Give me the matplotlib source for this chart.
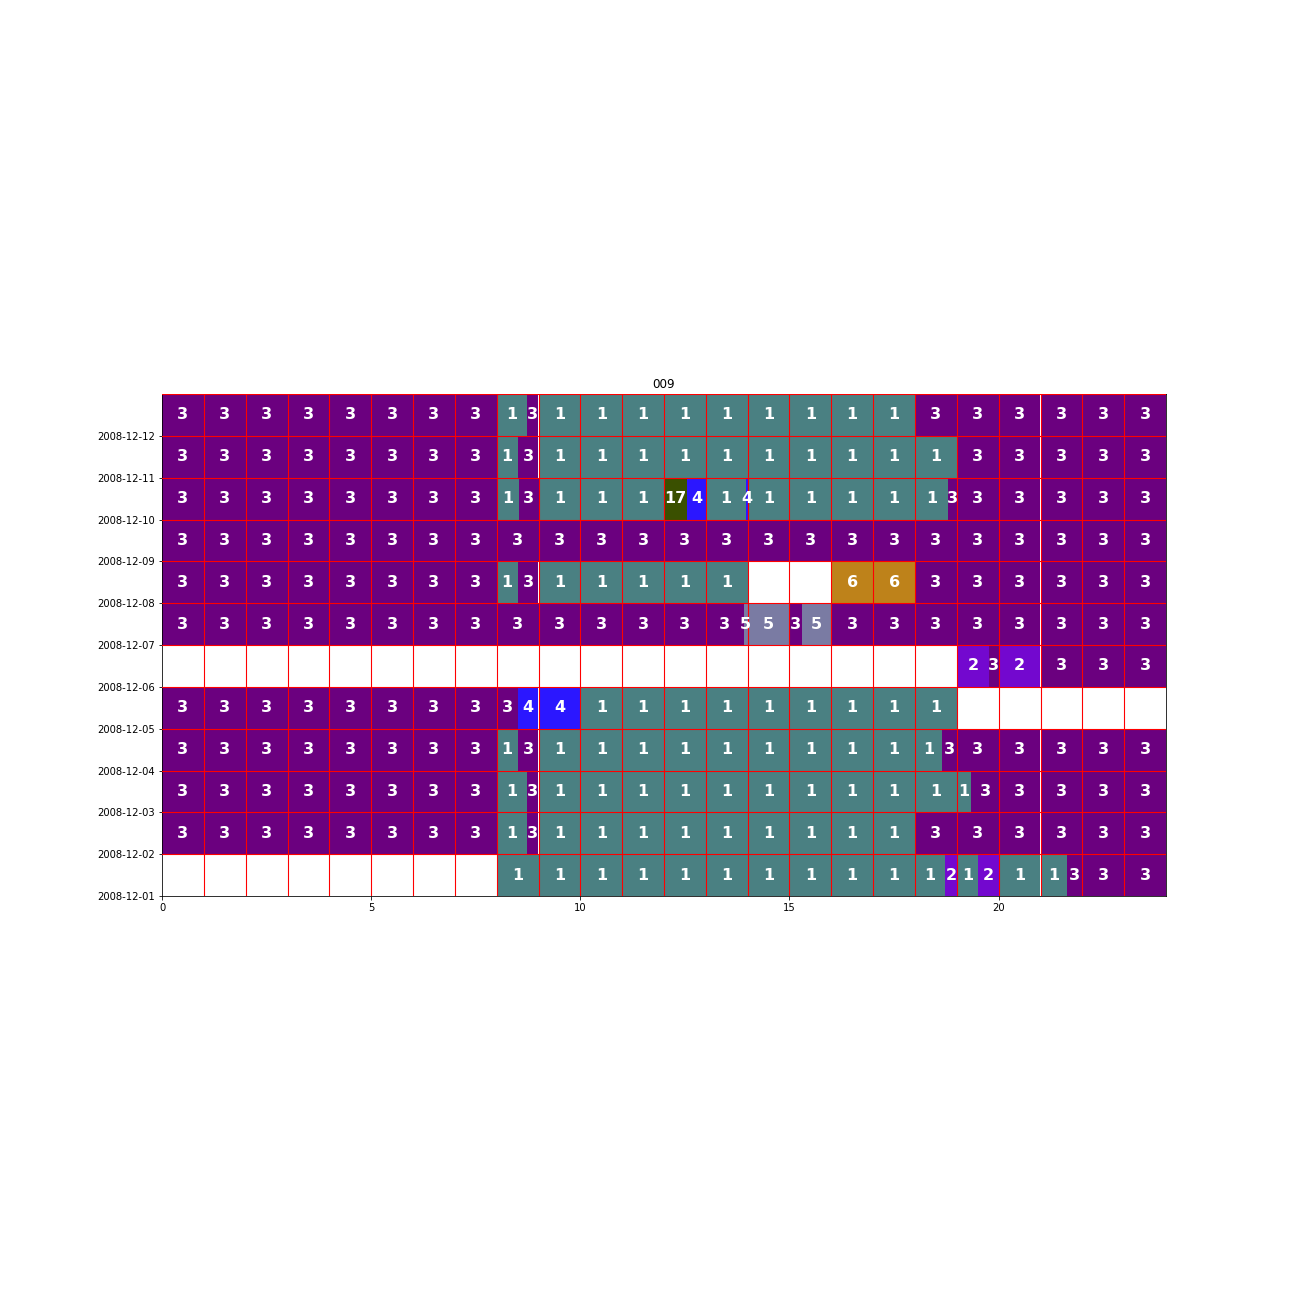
import matplotlib
matplotlib.use("Agg")
import matplotlib.pyplot as plt
import matplotlib.dates as mdates
import numpy as np
import datetime as dt

title = "009"
days = ["2008-12-01", "2008-12-02", "2008-12-03", "2008-12-04", "2008-12-05", "2008-12-06",
        "2008-12-07", "2008-12-08", "2008-12-09", "2008-12-10", "2008-12-11", "2008-12-12"]

# segment start hours, end hours and activity codes for each day (bottom to top)
seg_starts = [
    [8, 18.72, 19, 19.5, 20, 21.63],
    [0, 8, 8.73, 9, 18],
    [0, 8, 8.72, 9, 19.35],
    [0, 8, 8.5, 9, 18.65],
    [0, 8.5, 10],
    [19, 19.77, 20, 21],
    [0, 13.91, 15, 15.29, 16],
    [0, 8, 8.5, 9, 16, 18],
    [0],
    [0, 8, 8.53, 9, 12.0, 12.55, 13, 13.97, 14, 18.8],
    [0, 8, 8.5, 9, 19],
    [0, 8, 8.73, 9, 18],
]
seg_ends = [
    [18.72, 19, 19.5, 20, 21.63, 24],
    [8, 8.73, 9, 18, 24],
    [8, 8.72, 9, 19.35, 24],
    [8, 8.5, 9, 18.65, 24],
    [8.5, 10, 19],
    [19.77, 20, 21, 24],
    [13.91, 15, 15.29, 16, 24],
    [8, 8.5, 9, 14, 18, 24],
    [24],
    [8, 8.53, 9, 12.0, 12.55, 13, 13.97, 14, 18.8, 24],
    [8, 8.5, 9, 19, 24],
    [8, 8.73, 9, 18, 24],
]
seg_codes = [
    [1, 2, 1, 2, 1, 3],
    [3, 1, 3, 1, 3],
    [3, 1, 3, 1, 3],
    [3, 1, 3, 1, 3],
    [3, 4, 1],
    [2, 3, 2, 3],
    [3, 5, 3, 5, 3],
    [3, 1, 3, 1, 6, 3],
    [3],
    [3, 1, 3, 1, 17, 4, 1, 4, 1, 3],
    [3, 1, 3, 1, 3],
    [3, 1, 3, 1, 3],
]

code_colors = {1: "#4a8082", 2: "#7308cf", 3: "#6b007f", 4: "#2b17ff",
               5: "#7a7ba3", 6: "#be821a", 17: "#3a5000"}

fig = plt.figure(figsize=(18, 18), dpi=72)
ax = fig.add_axes([162 / 1296, 400 / 1296, 1004 / 1296, 502 / 1296])

day_nums = mdates.date2num([dt.datetime.strptime(d, "%Y-%m-%d") for d in days])

for dn, starts, ends, codes in zip(day_nums, seg_starts, seg_ends, seg_codes):
    for s, e, c in zip(starts, ends, codes):
        # split into hourly pieces
        h = s
        while h < e - 1e-9:
            nxt = min(e, np.floor(h + 1e-9) + 1)
            ax.barh(dn + 0.5, nxt - h, left=h, height=1.0, color=code_colors[c],
                    linewidth=0, zorder=1)
            ax.text((h + nxt) / 2, dn + 0.5, str(c), ha="center", va="center",
                    color="white", fontsize=16, fontweight="bold", zorder=4)
            h = nxt

y0 = day_nums[0]
y1 = day_nums[-1] + 1
for hh in range(1, 24):
    ax.plot([hh, hh], [y0, y1], color="red", lw=1.1, zorder=3)
for dn in list(day_nums[1:]) + [y1]:
    ax.plot([0, 24], [dn, dn], color="red", lw=1.1, zorder=3)

ax.set_xlim(0, 24)
ax.set_ylim(y0, y1)
ax.set_xticks([0, 5, 10, 15, 20])
ax.set_yticks(day_nums)
ax.yaxis.set_major_formatter(mdates.DateFormatter("%Y-%m-%d"))
ax.tick_params(labelsize=10)
ax.set_title(title, fontsize=12)

fig.savefig("out.png", dpi=72)
